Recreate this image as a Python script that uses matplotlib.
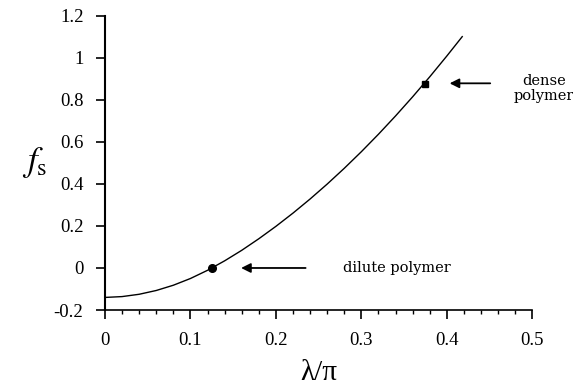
import matplotlib.pyplot as plt
from matplotlib.ticker import MultipleLocator

# curve
lam = [0.0, 0.02, 0.04, 0.06, 0.08, 0.10, 0.12, 0.14, 0.16, 0.18,
       0.20, 0.22, 0.24, 0.26, 0.28, 0.30, 0.32, 0.34, 0.36, 0.38,
       0.40, 0.418]
fs = [-0.140, -0.136, -0.125, -0.107, -0.082, -0.050, -0.011, 0.034,
      0.084, 0.139, 0.198, 0.261, 0.328, 0.399, 0.474, 0.553, 0.636,
      0.723, 0.814, 0.909, 1.008, 1.100]

dilute_pt = (0.125, 0.0)
dense_pt = (0.374, 0.876)

plt.rcParams['font.family'] = ['Liberation Serif', 'DejaVu Serif']
plt.rcParams['mathtext.fontset'] = 'stix'

fig = plt.figure(figsize=(5.73, 3.9), dpi=100)
ax = fig.add_axes([0.1832, 0.205, 0.7458, 0.755])

ax.plot(lam, fs, color='black', lw=1.0)
ax.plot(*dilute_pt, 'o', color='black', ms=5.5)
ax.plot(*dense_pt, 's', color='black', ms=5)

# arrows and labels
ax.annotate('', xy=(0.156, 0.0), xytext=(0.238, 0.0),
            arrowprops=dict(arrowstyle='-|>', color='black', lw=1.3,
                            mutation_scale=14))
ax.text(0.278, 0.0, 'dilute polymer', fontsize=10.5, family='DejaVu Serif',
        va='center', ha='left')
ax.annotate('', xy=(0.40, 0.878), xytext=(0.454, 0.878),
            arrowprops=dict(arrowstyle='-|>', color='black', lw=1.3,
                            mutation_scale=14))
ax.text(0.514, 0.852, 'dense\npolymer', fontsize=10.5, family='DejaVu Serif',
        va='center', ha='center', linespacing=1.1, clip_on=False)

ax.set_xlim(0, 0.5)
ax.set_ylim(-0.2, 1.2)
ax.xaxis.set_minor_locator(MultipleLocator(0.02))
ax.set_xticks([0, 0.1, 0.2, 0.3, 0.4, 0.5])
ax.set_xticklabels(['0', '0.1', '0.2', '0.3', '0.4', '0.5'])
ax.set_yticks([-0.2, 0, 0.2, 0.4, 0.6, 0.8, 1.0, 1.2])
ax.set_yticklabels(['-0.2', '0', '0.2', '0.4', '0.6', '0.8', '1', '1.2'])

for s in ['top', 'right']:
    ax.spines[s].set_visible(False)
ax.spines['left'].set_linewidth(1.5)
ax.spines['bottom'].set_linewidth(1.2)
ax.tick_params(axis='both', which='major', direction='out', length=6.5,
               width=1.2, labelsize=13.5)
ax.tick_params(axis='x', which='major', pad=9)
ax.tick_params(axis='y', which='major', pad=9)
ax.tick_params(axis='x', which='minor', direction='out', length=3, width=1)

ax.set_xlabel('λ/π', fontsize=21)
ax.xaxis.set_label_coords(0.5, -0.17)
ax.set_ylabel(r'$f_{\mathrm{s}}$', fontsize=25, rotation=0)
ax.yaxis.set_label_coords(-0.165, 0.44)

fig.savefig('out.png', dpi=100)
